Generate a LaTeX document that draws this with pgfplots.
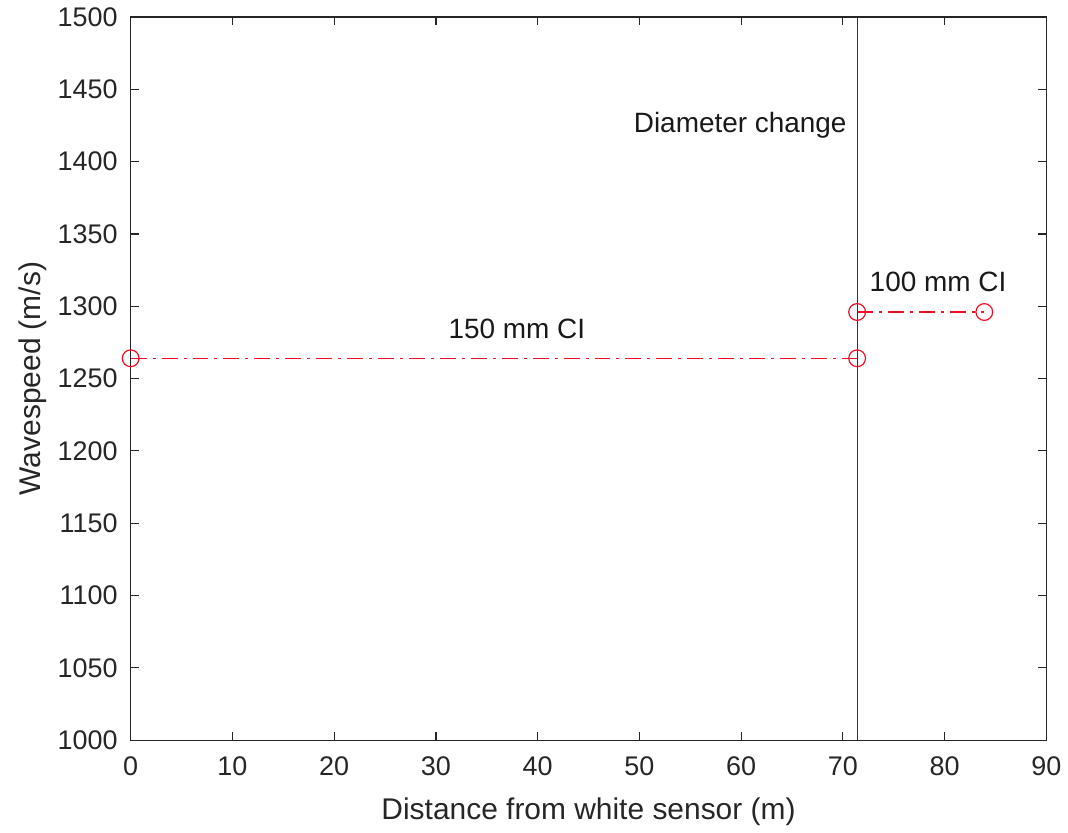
\documentclass[border=0pt]{standalone}
\usepackage{pgfplots}
\pgfplotsset{compat=1.18}
\usepackage{fontspec}
\setmainfont{Liberation Sans}
\definecolor{axgray}{rgb}{0.15,0.15,0.15}
\definecolor{mred}{rgb}{0.95,0.05,0.15}
\begin{document}
\begin{tikzpicture}
\begin{axis}[
  scale only axis,
  width=459pt, height=362.5pt,
  xmin=0, xmax=90, ymin=1000, ymax=1500,
  xtick={0,10,...,90}, ytick={1000,1050,...,1500},
  tick align=inside,
  major tick length=4pt,
  axis line style={axgray, line width=0.6pt},
  every tick/.style={axgray, line width=0.6pt},
  tick label style={font=\fontsize{13.5}{16}\selectfont, text=axgray},
  yticklabel style={xshift=-3pt},
  xticklabel style={yshift=-5pt},
  /pgf/number format/assume math mode=true,
  /pgf/number format/1000 sep={},
  label style={font=\fontsize{15}{18}\selectfont, text=axgray},
  xlabel={Distance from white sensor (m)},
  ylabel={Wavespeed (m/s)},
  xlabel style={yshift=-4pt},
  ylabel style={yshift=-1.5pt},
  clip=false,
]
\addplot[mred, line width=0.6pt, dash pattern=on 8pt off 3pt on 1.5pt off 3pt, mark=o, mark size=4.2pt, mark options={solid}]
  coordinates {(0,1264) (71.4,1264)};
\addplot[mred, line width=0.6pt, dash pattern=on 8pt off 3pt on 1.5pt off 3pt, mark=o, mark size=4.2pt, mark options={solid}]
  coordinates {(71.4,1296) (83.9,1296)};
\addplot[black!80, line width=0.5pt] coordinates {(71.4,1000) (71.4,1500)};
\node[anchor=east, inner sep=0pt, font=\fontsize{14}{16}\selectfont, text=black!90] at (axis cs:70.4,1425) {Diameter change};
\node[anchor=west, inner sep=0pt, font=\fontsize{14}{16}\selectfont, text=black!90] at (axis cs:31.2,1284) {150 mm CI};
\node[anchor=west, inner sep=0pt, font=\fontsize{14}{16}\selectfont, text=black!90] at (axis cs:72.6,1317) {100 mm CI};
\end{axis}
\path ([xshift=-65.5pt,yshift=-43pt]current axis.south west) rectangle ([xshift=10pt,yshift=8.5pt]current axis.north east);
\end{tikzpicture}
\end{document}
